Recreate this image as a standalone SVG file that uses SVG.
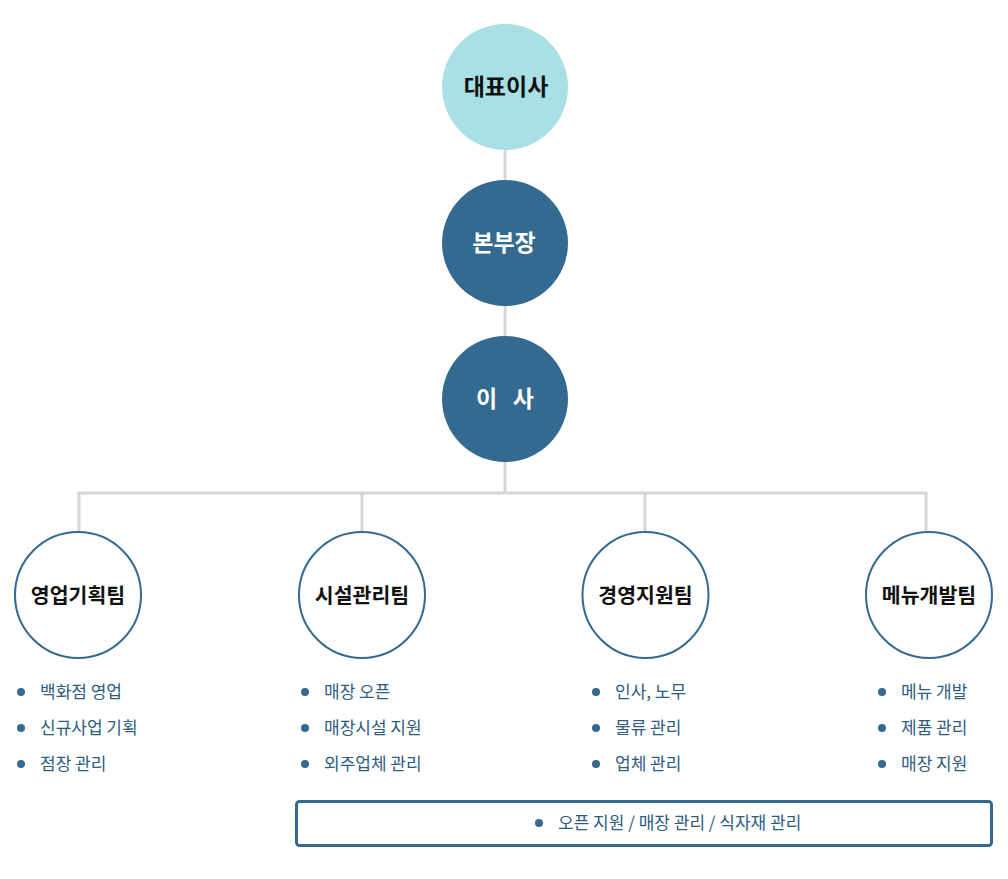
<svg xmlns="http://www.w3.org/2000/svg" width="1008" height="879" viewBox="0 0 1008 879">
<style>
.ln{stroke:#d6d6d6;stroke-width:3;fill:none}
.top{font-family:"Noto Sans CJK KR","Noto Sans",sans-serif;font-size:23px;font-weight:700;text-anchor:middle}
.team{font-family:"Noto Sans CJK KR","Noto Sans",sans-serif;font-size:20.5px;font-weight:700;text-anchor:middle;fill:#111}
.tc{fill:#fff;stroke:#346a8f;stroke-width:2}
.li{font-family:"Noto Sans CJK KR","Noto Sans",sans-serif;font-size:17px;fill:#2e5c7e}
.b{fill:#346a8f}
</style>
<rect width="1008" height="879" fill="#fff"/>
<g id="connectors">
<line class="ln" x1="505" y1="150" x2="505" y2="180"/>
<line class="ln" x1="505" y1="306" x2="505" y2="336"/>
<line class="ln" x1="505" y1="462" x2="505" y2="493"/>
<polyline class="ln" points="79,531 79,493 926,493 926,531"/>
<line class="ln" x1="362" y1="493" x2="362" y2="531"/>
<line class="ln" x1="645" y1="493" x2="645" y2="531"/>
</g>
<g id="ceo">
<circle cx="505" cy="87" r="63" fill="#a8e0e5"/>
<text class="top" x="506" y="95" fill="#111">대표이사</text>
</g>
<g id="director-general">
<circle cx="505" cy="243" r="63" fill="#346a8f"/>
<text class="top" x="504" y="251" fill="#fff">본부장</text>
</g>
<g id="director">
<circle cx="505" cy="399" r="63" fill="#346a8f"/>
<text class="top" x="505" y="407" fill="#fff" xml:space="preserve">이   사</text>
</g>
<g id="team1">
<circle class="tc" cx="78" cy="595" r="63"/>
<text class="team" x="78" y="603">영업기획팀</text>
<circle class="b" cx="21" cy="692" r="4"/><text class="li" x="40" y="698">백화점 영업</text>
<circle class="b" cx="21" cy="728" r="4"/><text class="li" x="40" y="734">신규사업 기획</text>
<circle class="b" cx="21" cy="764" r="4"/><text class="li" x="40" y="770">점장 관리</text>
</g>
<g id="team2">
<circle class="tc" cx="362" cy="595" r="63"/>
<text class="team" x="362" y="603">시설관리팀</text>
<circle class="b" cx="305" cy="692" r="4"/><text class="li" x="324" y="698">매장 오픈</text>
<circle class="b" cx="305" cy="728" r="4"/><text class="li" x="324" y="734">매장시설 지원</text>
<circle class="b" cx="305" cy="764" r="4"/><text class="li" x="324" y="770">외주업체 관리</text>
</g>
<g id="team3">
<circle class="tc" cx="645.5" cy="595" r="63"/>
<text class="team" x="645.5" y="603">경영지원팀</text>
<circle class="b" cx="596" cy="692" r="4"/><text class="li" x="615" y="698">인사, 노무</text>
<circle class="b" cx="596" cy="728" r="4"/><text class="li" x="615" y="734">물류 관리</text>
<circle class="b" cx="596" cy="764" r="4"/><text class="li" x="615" y="770">업체 관리</text>
</g>
<g id="team4">
<circle class="tc" cx="929" cy="595" r="63"/>
<text class="team" x="929" y="603">메뉴개발팀</text>
<circle class="b" cx="882" cy="692" r="4"/><text class="li" x="901" y="698">메뉴 개발</text>
<circle class="b" cx="882" cy="728" r="4"/><text class="li" x="901" y="734">제품 관리</text>
<circle class="b" cx="882" cy="764" r="4"/><text class="li" x="901" y="770">매장 지원</text>
</g>
<g id="shared">
<rect x="296.5" y="801.5" width="695" height="44" rx="3" fill="#fff" stroke="#346a8f" stroke-width="3"/>
<circle class="b" cx="539" cy="823" r="4"/>
<text class="li" x="558" y="829">오픈 지원 / 매장 관리 / 식자재 관리</text>
</g>
</svg>
